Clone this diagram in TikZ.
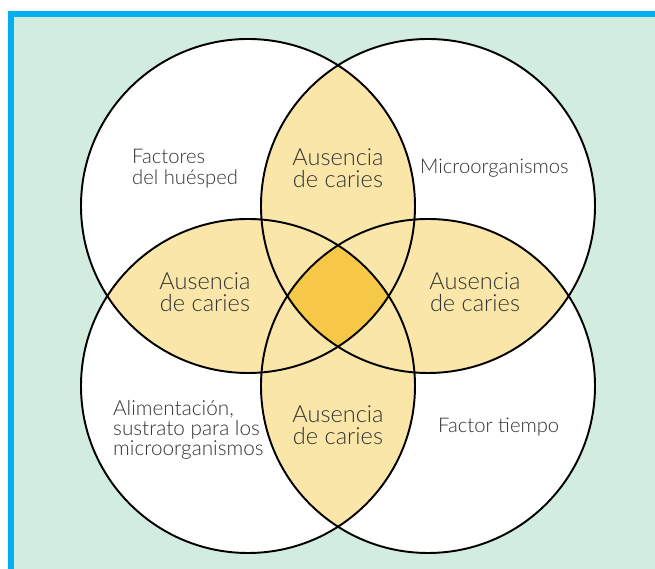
\documentclass[tikz,border=0pt]{standalone}
\usepackage{fontspec}
\setmainfont{Lato}[UprightFont={* Light}]
\usepackage{tikz}
\definecolor{mint}{RGB}{210,237,223}
\definecolor{frame}{RGB}{0,176,240}
\definecolor{lens}{RGB}{250,230,168}
\definecolor{core}{RGB}{247,200,72}
\definecolor{ink}{RGB}{50,50,50}
\tikzstyle{ring} = [black, line width=1.1pt]
\tikzstyle{region} = [text=ink, align=center, font=\fontsize{13.4}{12.6}\selectfont]
\tikzstyle{factor} = [text=ink, align=left, anchor=west, font=\fontsize{11.5}{12}\selectfont]

\begin{document}
\begin{tikzpicture}
    \useasboundingbox (-6.76, -5.46) rectangle (6.34, 5.92);
    % frame and paper
    \fill[white] (-6.76, -5.46) rectangle (6.34, 5.92);
    \fill[frame] (-6.6, -5.46) rectangle (6.34, 5.70);
    \fill[mint] (-6.48, -5.46) rectangle (6.34, 5.58);
    % circle centres
    \coordinate (TL) at (-1.8, 1.8);
    \coordinate (TR) at (1.8, 1.8);
    \coordinate (BL) at (-1.8, -1.8);
    \coordinate (BR) at (1.8, -1.8);
    \fill[white] (TL) circle (3.34);
    \fill[white] (TR) circle (3.34);
    \fill[white] (BL) circle (3.34);
    \fill[white] (BR) circle (3.34);
    % overlaps of two circles
    \begin{scope}
      \clip (TL) circle (3.34);
      \fill[lens] (TR) circle (3.34);
      \fill[lens] (BL) circle (3.34);
      \fill[lens] (BR) circle (3.34);
    \end{scope}
    \begin{scope}
      \clip (TR) circle (3.34);
      \fill[lens] (BL) circle (3.34);
      \fill[lens] (BR) circle (3.34);
    \end{scope}
    \begin{scope}
      \clip (BL) circle (3.34);
      \fill[lens] (BR) circle (3.34);
    \end{scope}
    % all four
    \begin{scope}
      \clip (TL) circle (3.34);
      \clip (TR) circle (3.34);
      \clip (BL) circle (3.34);
      \fill[core] (BR) circle (3.34);
    \end{scope}
    \draw[ring] (TL) circle (3.34);
    \draw[ring] (TR) circle (3.34);
    \draw[ring] (BL) circle (3.34);
    \draw[ring] (BR) circle (3.34);
    \node[region] at (0, 2.55) (top lens) {Ausencia\\de caries};
    \node[region] at (-2.66, 0.07) (left lens) {Ausencia\\de caries};
    \node[region] at (2.74, 0.07) (right lens) {Ausencia\\de caries};
    \node[region] at (0, -2.59) (bottom lens) {Ausencia\\de caries};
    \node[factor] at (-4.24, 2.55) (host) {Factores\\del huésped};
    \node[factor] at (1.52, 2.56) (microbes) {Microorganismos};
    \node[factor, font=\fontsize{11.8}{11.4}\selectfont] at (-4.62, -2.68) (diet) {Alimentación,\\sustrato para los\\microorganismos};
    \node[factor] at (1.88, -2.62) (time) {Factor tiempo};
\end{tikzpicture}
\end{document}
